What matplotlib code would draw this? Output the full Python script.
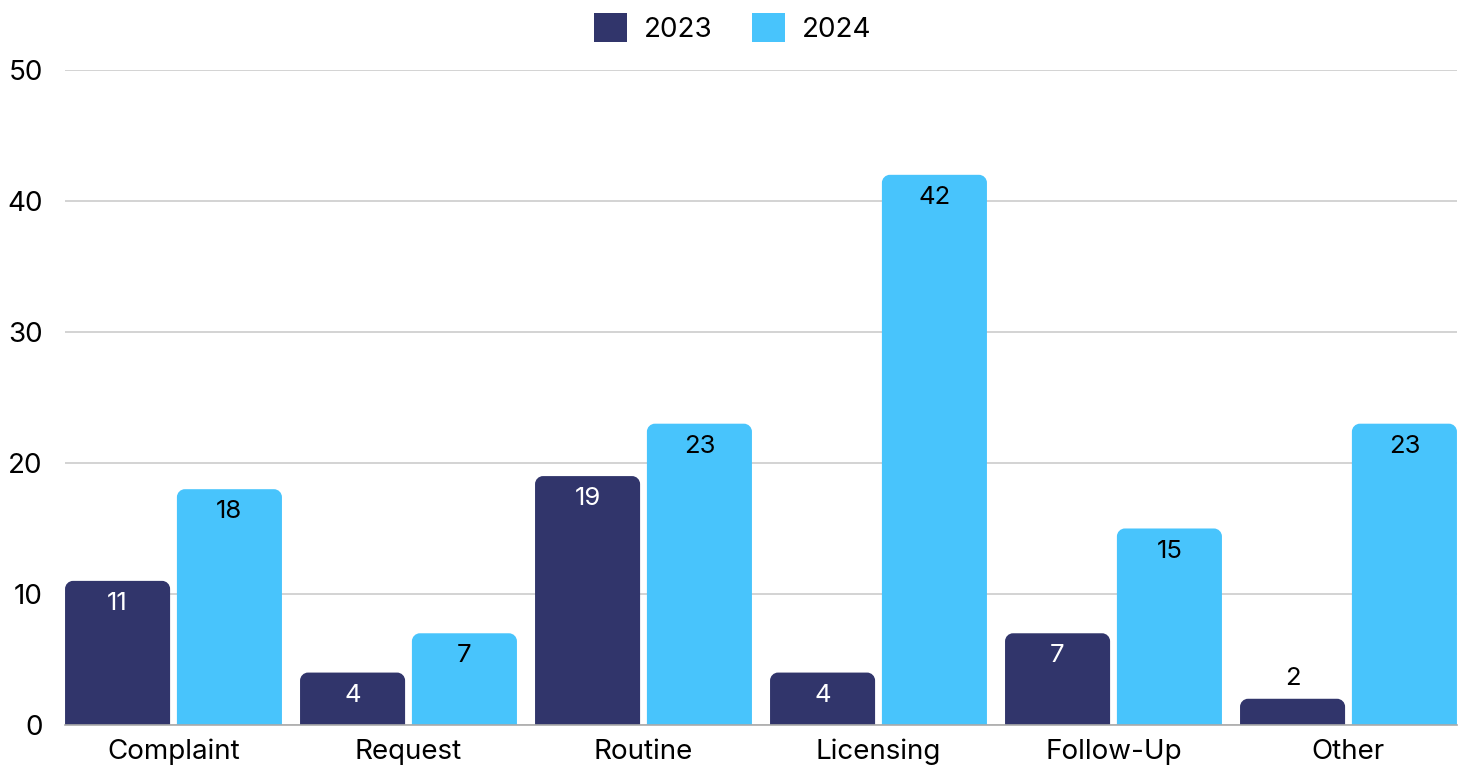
import matplotlib.pyplot as plt
from matplotlib.path import Path
from matplotlib.patches import PathPatch, Patch
import numpy as np

# data
categories = ['Complaint', 'Request', 'Routine', 'Licensing', 'Follow-Up', 'Other']
years = ['2023', '2024']
values_2023 = [11, 4, 19, 4, 7, 2]
values_2024 = [18, 7, 23, 42, 15, 23]

colors = ['#31356B', '#48C4FC']
label_colors = ['white', 'black']

plt.rcParams['font.family'] = ['Inter', 'DejaVu Sans']

fig = plt.figure(figsize=(14.65, 7.67), dpi=100)
ax = fig.add_axes([0.0444, 0.0548, 0.9501, 0.8539])

x = np.arange(len(categories))
width = 0.447
offset = 0.238

ax.set_xlim(-offset - width / 2, len(categories) - 1 + offset + width / 2)
ax.set_ylim(0, 50)


def rounded_top(rect, r_px=8):
    # replace a plain bar with one whose top corners are rounded
    x0, y0 = rect.get_x(), rect.get_y()
    w, h = rect.get_width(), rect.get_height()
    px_x = ax.transData.transform((1, 0))[0] - ax.transData.transform((0, 0))[0]
    px_y = ax.transData.transform((0, 1))[1] - ax.transData.transform((0, 0))[1]
    rx = min(r_px / px_x, w / 2)
    ry = min(r_px / px_y, h)
    k = 0.5523
    verts = [
        (x0, y0), (x0, y0 + h - ry),
        (x0, y0 + h - ry + k * ry), (x0 + rx - k * rx, y0 + h), (x0 + rx, y0 + h),
        (x0 + w - rx, y0 + h),
        (x0 + w - rx + k * rx, y0 + h), (x0 + w, y0 + h - ry + k * ry), (x0 + w, y0 + h - ry),
        (x0 + w, y0), (x0, y0),
    ]
    codes = [Path.MOVETO, Path.LINETO,
             Path.CURVE4, Path.CURVE4, Path.CURVE4,
             Path.LINETO,
             Path.CURVE4, Path.CURVE4, Path.CURVE4,
             Path.LINETO, Path.CLOSEPOLY]
    patch = PathPatch(Path(verts, codes), facecolor=rect.get_facecolor(),
                      edgecolor='none', zorder=3)
    ax.add_patch(patch)
    rect.remove()


for i, (vals, shift) in enumerate([(values_2023, -offset), (values_2024, offset)]):
    bars = ax.bar(x + shift, vals, width, color=colors[i], zorder=3)
    for rect, v in zip(bars, vals):
        cx = rect.get_x() + rect.get_width() / 2
        if v >= 3:
            ax.annotate(str(v), (cx, v), xytext=(0, -8), textcoords='offset points',
                        ha='center', va='top', fontsize=18.5, color=label_colors[i], zorder=4)
        else:
            ax.annotate(str(v), (cx, v), xytext=(0, 6), textcoords='offset points',
                        ha='center', va='bottom', fontsize=18.5, color='black', zorder=4)
        rounded_top(rect)

ax.set_xticks(x)
ax.set_xticklabels(categories, fontsize=20)
ax.set_yticks(range(0, 51, 10))
ax.tick_params(axis='y', labelsize=20, length=0, pad=16)
ax.tick_params(axis='x', length=0, pad=10)

ax.grid(axis='y', color='#cccccc', linewidth=1.2, zorder=0)
ax.set_axisbelow(True)
for side in ['top', 'right', 'left']:
    ax.spines[side].set_visible(False)
ax.spines['bottom'].set_color('#aaaaaa')
ax.spines['bottom'].set_linewidth(1.2)
ax.spines['bottom'].set_zorder(5)

handles = [Patch(facecolor=c, label=y) for c, y in zip(colors, years)]
fig.legend(handles=handles, loc='upper center', bbox_to_anchor=(0.5, 1.015), ncol=2,
           frameon=False, fontsize=20, handlelength=1.2, handleheight=1.2,
           columnspacing=1.4, handletextpad=0.6)

fig.savefig('out.png', dpi=100)
